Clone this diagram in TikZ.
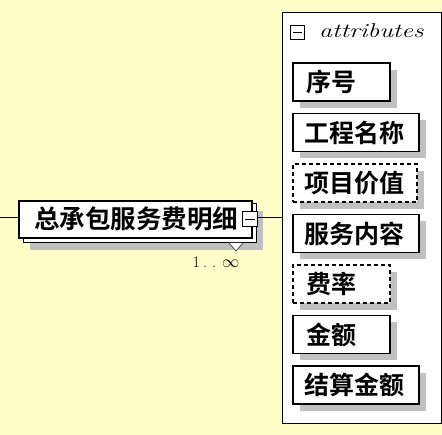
\documentclass[tikz,border=0pt]{standalone}
\usepackage{fontspec}
\newfontfamily\cjk{Noto Sans CJK SC Bold}
\definecolor{bgyellow}{RGB}{255,253,200}
\definecolor{shadowgray}{RGB}{192,192,192}
\tikzset{
  attrbox/.style={draw=black, line width=1.2pt, fill=white, minimum height=38pt, inner sep=0pt},
  optbox/.style={attrbox, dashed, dash pattern=on 4pt off 3pt},
  shadowbox/.style={fill=shadowgray, draw=none, minimum height=38pt, inner sep=0pt},
  attrtext/.style={font=\cjk\fontsize{25}{27}\selectfont, anchor=west, inner sep=0pt},
  minusbox/.style={draw=black, line width=1pt, fill=white, minimum size=#1, inner sep=0pt},
}
\newcommand{\attrrow}[4]{% name, y, width, style
  \node[shadowbox, minimum width=#3pt] at (293+#3/2+7, #2+7) {};
  \node[#4, minimum width=#3pt] (#1) at (293+#3/2, #2) {};
}
\begin{document}
\begin{tikzpicture}[x=1pt, y=-1pt]
\useasboundingbox (0,0) rectangle (442,435);
\fill[bgyellow] (0,0) rectangle (442,435);
% attributes panel
\node[draw=black, line width=1pt, fill=white, minimum width=159pt, minimum height=411pt, inner sep=0pt] (panel) at (361.5,218.5) {};
\node[minusbox=14pt] (amin) at (297.5,32.5) {};
\draw[line width=1pt] ([xshift=3pt]amin.west) -- ([xshift=-3pt]amin.east);
\node[font=\itshape\fontsize{20}{22}\selectfont, inner sep=0pt, anchor=west] (atitle) at (319,31) {\scalebox{1.3}[1]{attributes}};
% attribute boxes
\attrrow{a1}{82}{97}{attrbox}
\attrrow{a2}{132.5}{126}{attrbox}
\attrrow{a3}{183}{124}{optbox}
\attrrow{a4}{233.5}{126}{attrbox}
\attrrow{a5}{284}{97}{optbox}
\attrrow{a6}{334.5}{97}{attrbox}
\attrrow{a7}{385}{126}{attrbox}
\node[attrtext] at ([xshift=14pt]a1.west) {序号};
\node[attrtext] at ([xshift=12pt]a2.west) {工程名称};
\node[attrtext] at ([xshift=12pt]a3.west) {项目价值};
\node[attrtext] at ([xshift=12pt]a4.west) {服务内容};
\node[attrtext] at ([xshift=14pt]a5.west) {费率};
\node[attrtext] at ([xshift=14pt]a6.west) {金额};
\node[attrtext] at ([xshift=12pt]a7.west) {结算金额};
% main element
\coordinate (lstart) at (0,218);
\fill[shadowgray] (30,211) rectangle (263,250);
\node[draw=black, line width=1pt, fill=white, minimum width=233pt, minimum height=39pt, inner sep=0pt] (back) at (139.5,223.5) {};
\node[draw=black, line width=1.2pt, fill=white, minimum width=233pt, minimum height=37pt, inner sep=0pt] (main) at (135.5,219.5) {};
\node[font=\cjk\fontsize{25.5}{28}\selectfont, inner sep=0pt, anchor=west] (mtext) at (34,219) {总承包服务费明细};
\node[minusbox=15pt] (mmin) at (249.5,219.5) {};
\draw[line width=1pt] ([xshift=3pt]mmin.west) -- ([xshift=-3pt]mmin.east);
\draw[line width=0.8pt, draw=black!70, fill=white] (229,243) -- (236,251) -- (243,243);
\node[font=\fontsize{16}{18}\selectfont, inner sep=0pt] (mult) at (216,262) {1\hspace{3pt}.\hspace{5pt}.\hspace{6pt}$\infty$};
\draw[line width=1pt] (lstart) -- (main.west |- lstart);
\draw[line width=1pt] (mmin.east |- 0,218) -- (panel.west |- 0,218);
\end{tikzpicture}
\end{document}
